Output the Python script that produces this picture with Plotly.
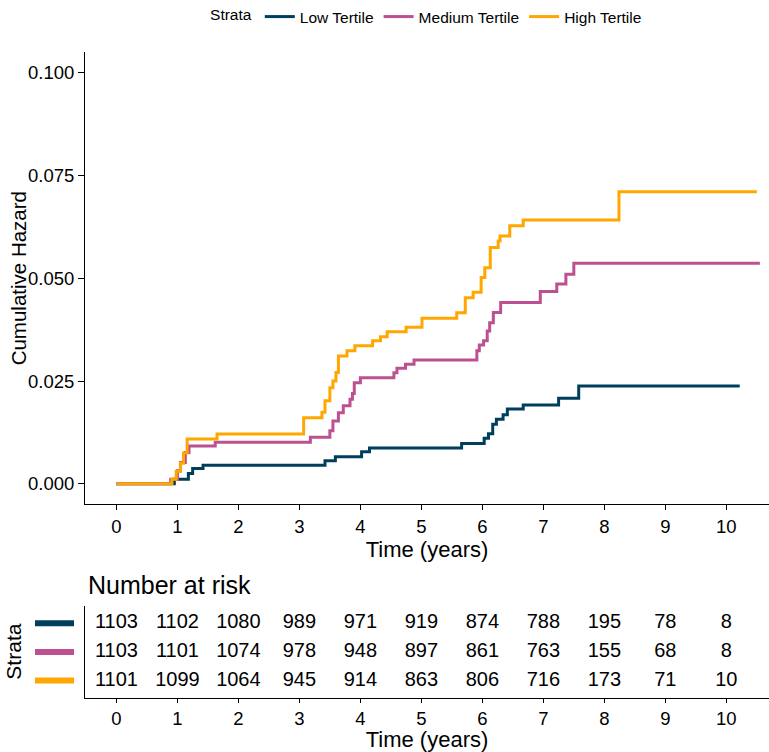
import plotly.graph_objects as go

# ---------------- data ----------------
strata_names = ["Low Tertile", "Medium Tertile", "High Tertile"]
strata_colors = ["#003f5c", "#bc5090", "#ffa600"]

low_time = [0, 0.95, 1.18, 1.25, 1.42, 3.42, 3.59, 4.02, 4.15, 5.66, 6.03, 6.10, 6.17,
            6.23, 6.34, 6.41, 6.67, 7.25, 7.58, 10.22]
low_haz = [0, 0.0011, 0.0025, 0.0037, 0.0045, 0.0056, 0.0066, 0.0078, 0.0087, 0.0098,
           0.0111, 0.0122, 0.0145, 0.0157, 0.0168, 0.0182, 0.0192, 0.0208, 0.0238, 0.0238]

med_time = [0, 0.89, 1.0, 1.05, 1.13, 1.19, 1.62, 3.18, 3.5, 3.55, 3.64, 3.72, 3.83, 3.87,
            3.9, 4.0, 4.55, 4.6, 4.74, 4.88, 5.91, 5.95, 6.02, 6.08, 6.12, 6.18, 6.3, 6.95,
            7.22, 7.37, 7.5, 10.55]
med_haz = [0, 0.0011, 0.0032, 0.0052, 0.0076, 0.0092, 0.0101, 0.0113, 0.0129, 0.0153,
           0.0173, 0.019, 0.0206, 0.022, 0.0246, 0.0258, 0.0270, 0.0281, 0.0291, 0.0301,
           0.0324, 0.0338, 0.0348, 0.0372, 0.0392, 0.0417, 0.0441, 0.0468, 0.0486, 0.0510,
           0.0537, 0.0537]

high_time = [0, 0.91, 0.98, 1.05, 1.1, 1.16, 1.65, 3.07, 3.37, 3.42, 3.5, 3.55, 3.6, 3.64,
             3.78, 3.91, 4.2, 4.33, 4.44, 4.75, 5.01, 5.58, 5.72, 5.85, 5.98, 6.04, 6.13,
             6.26, 6.29, 6.45, 6.67, 8.24, 10.5]
high_haz = [0, 0.0011, 0.003, 0.005, 0.0075, 0.0109, 0.0121, 0.0161, 0.0174, 0.0202, 0.0234,
            0.025, 0.0271, 0.0311, 0.0324, 0.0336, 0.0348, 0.0358, 0.0370, 0.0381, 0.0403,
            0.0416, 0.0453, 0.0466, 0.0502, 0.0526, 0.0575, 0.0591, 0.0603, 0.0628, 0.0642,
            0.0711, 0.0711]

risk_times = [0, 1, 2, 3, 4, 5, 6, 7, 8, 9, 10]
risk_low = [1103, 1102, 1080, 989, 971, 919, 874, 788, 195, 78, 8]
risk_med = [1103, 1101, 1074, 978, 948, 897, 861, 763, 155, 68, 8]
risk_high = [1101, 1099, 1064, 945, 914, 863, 806, 716, 173, 71, 10]

y_ticks = [0, 0.025, 0.05, 0.075, 0.1]

# ---------------- figure ----------------
W, H = 769, 752
FONT = "Liberation Sans, Arial, Helvetica, sans-serif"

def px_x(p):
    return p / W

def px_y(p):
    return 1 - p / H

fig = go.Figure()

curves = [(low_time, low_haz), (med_time, med_haz), (high_time, high_haz)]
for name, col, (t, h) in zip(strata_names, strata_colors, curves):
    fig.add_trace(go.Scatter(
        x=t, y=h, mode="lines", name=name,
        line=dict(color=col, width=3, shape="hv"),
        xaxis="x", yaxis="y",
    ))

# risk table text
risk_rows = [risk_low, risk_med, risk_high]
row_pos = [3, 2, 1]
for r, pos in zip(risk_rows, row_pos):
    fig.add_trace(go.Scatter(
        x=risk_times, y=[pos] * len(risk_times), mode="text",
        text=[str(v) for v in r], textposition="middle center",
        textfont=dict(size=20, color="black", family=FONT),
        showlegend=False, xaxis="x2", yaxis="y2", hoverinfo="skip",
    ))

# colored swatches for table rows
for col, pos in zip(strata_colors, row_pos):
    fig.add_shape(type="line", xref="paper", yref="y2",
                  x0=px_x(35), x1=px_x(74), y0=pos, y1=pos,
                  line=dict(color=col, width=6))

xrange = [-0.515, 10.7]
axis_common = dict(showline=True, linecolor="black", linewidth=1.1, showgrid=False,
                   zeroline=False, ticks="outside", tickcolor="black", tickwidth=1.1,
                   tickfont=dict(size=18.5, color="black", family=FONT))

fig.update_layout(
    width=W, height=H,
    margin=dict(l=0, r=0, t=0, b=0),
    paper_bgcolor="white", plot_bgcolor="white",
    font=dict(family=FONT, color="black"),
    xaxis=dict(domain=[px_x(85), 1], range=xrange, tickvals=risk_times, ticklen=5,
               anchor="y",
               title=dict(text="Time (years)", font=dict(size=22), standoff=2),
               **axis_common),
    yaxis=dict(domain=[px_y(504), px_y(51.4)], range=[-0.005, 0.105], tickvals=y_ticks,
               tickformat=".3f", ticklen=6, anchor="x",
               **axis_common),
    xaxis2=dict(domain=[px_x(85), 1], range=xrange, tickvals=risk_times, ticklen=4,
                anchor="y2",
                title=dict(text="Time (years)", font=dict(size=22), standoff=2),
                **axis_common),
    yaxis2=dict(domain=[px_y(697.7), px_y(606)], range=[0.4, 3.6], showline=True,
                linecolor="black", linewidth=1.1, showgrid=False, zeroline=False,
                showticklabels=False, ticks="", anchor="x2"),
    legend=dict(orientation="h", x=0.556, xanchor="center", y=px_y(16), yanchor="middle",
                title=dict(text="Strata", font=dict(size=15.5)),
                font=dict(size=15.5), itemwidth=30, traceorder="normal"),
    annotations=[
        dict(text="Number at risk", xref="paper", yref="paper",
             x=px_x(86), y=px_y(585), xanchor="left", yanchor="middle",
             showarrow=False, font=dict(size=25, color="black")),
        dict(text="Cumulative Hazard", xref="paper", yref="paper",
             x=px_x(18), y=px_y(277.7), xanchor="center", yanchor="middle",
             textangle=-90, showarrow=False, font=dict(size=20.5, color="black")),
        dict(text="Strata", xref="paper", yref="paper",
             x=px_x(13.5), y=px_y(652), xanchor="center", yanchor="middle",
             textangle=-90, showarrow=False, font=dict(size=21, color="black")),
    ],
)

fig.write_html("out.html", config={"displayModeBar": False},
               post_script="document.body.style.margin='0';document.body.style.overflow='hidden';")
